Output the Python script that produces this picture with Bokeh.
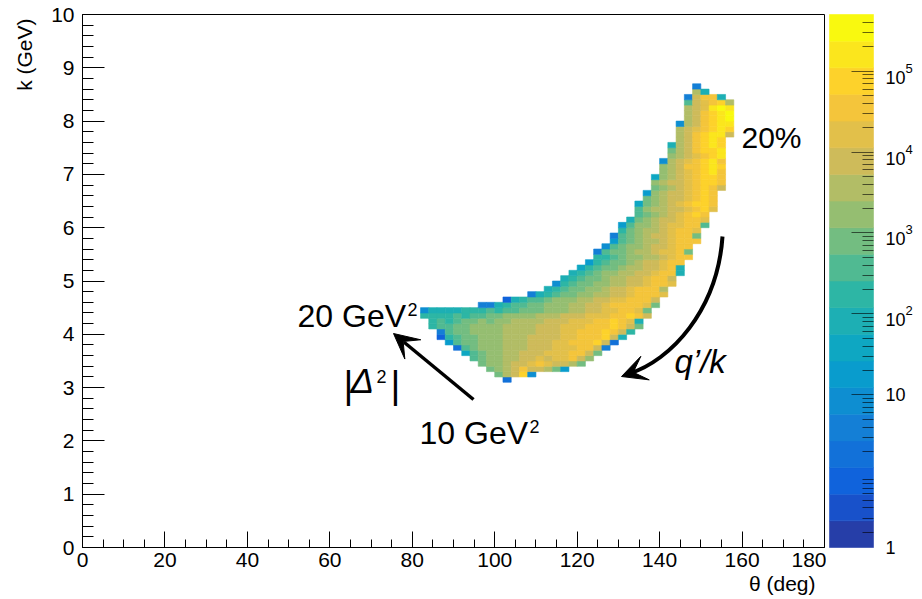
import math
from bokeh.plotting import figure
from bokeh.models import (ColumnDataSource, LogColorMapper, Label, Arrow, VeeHead,
                          SingleIntervalTicker, FixedTicker, Range1d, LinearAxis,
                          CustomJSTickFormatter)
from bokeh.layouts import row
from bokeh.embed import file_html
from bokeh.resources import INLINE
from bokeh.core.properties import value

# ------------------------------------------------------------------ data
theta_bin_deg = 2.0      # histogram bin width in theta
k_bin_gev = 0.1          # histogram bin width in k
theta_lim = (0, 180)
k_lim = (0, 10)
z_min = 0.13             # colour-axis range (log)
z_max = 5.0e5
n_contours = 20          # number of colour bands

# one entry per k bin (k = 0.1*index GeV): first theta bin (theta = 2*index deg)
# and the colour band of each filled cell, 'a' = band 0 ... 't' = band 19
row_k_bin = list(range(31, 87))
row_first_theta_bin = [51, 50, 49, 48, 47, 46, 45, 44, 43, 43, 42, 42, 41, 41,
                       48, 51, 54, 56, 57, 58, 59, 60, 61, 62, 62, 63, 64, 64,
                       65, 65, 66, 67, 67, 67, 68, 68, 69, 69, 69, 70, 70, 70,
                       71, 71, 71, 72, 72, 72, 72, 73, 73, 73, 73, 73, 74, 74]
row_levels = [
    "d", "lnorf", "lmnoqoonlg", "lmmnoopqpoonl", "klmmnnoopoppqom",
    "hklmmnnooopppqqol", "dklmmmnnnooopppqqoe", "gkllmmmnnnoooppqqqrod",
    "cjkllmmmnnnooooppqqqroi", "ekllmmmmnnnnoooppqqqrqoj",
    "jkkllmmmmnnnnooopppqqqrqol", "jkjkllmlmmnnnnooopppqqrqpi",
    "jjjjkjkkllmmmmnnnooopppqqrqo", "fiiiijjjkjkklllmmmnnooppqqpl",
    "eeijkkllmmmnnoopqqqqpl", "cijkklmmmnnooppqqqo", "eijkllmmnnoopqqqp",
    "ijkllmmnoopqqqn", "fjkllmmnnoopqqp", "ijkllmnnoopqqo", "ijklmmnnoopqqi",
    "hjkllmnnoopqi", "gjkllmnoopqq", "jjklmmnnopqq", "ekllmnnoppql",
    "fklmmnoopqq", "gklmnnopqqq", "eklmnoopqql", "jlmnnopqqp", "gkmmnoppqqk",
    "ilmnoopqqp", "klmnopqrq", "kmnnoopqrp", "hlmnopqrrq", "lmnoopqrq",
    "gmnoopqrq", "lmnopqrqo", "mnoopqrrq", "hmnopqrrq", "mnopqrsq",
    "mnoqqrsr", "fnopqrsq", "mnopqrs", "lnoqrrs", "inoqrsr", "noqrsr",
    "noqrsso", "nopqrsr", "fnoqrss", "noqrst", "noqrst", "nopsts", "kopqrn",
    "eoqqi", "ni", "e",
]

x_major_step = 20
y_major_step = 1
x_title = "θ (deg)"
y_title = "k (GeV)"
colorbar_tick_values = [z_min, 10, 100, 1000, 10000, 100000]
colorbar_bases = ["1", "10", "10", "10", "10", "10"]
colorbar_exponents = ["", "", "2", "3", "4", "5"]
colorbar_minor_mult = [2, 3, 4, 5, 6, 7, 8, 9]

# ------------------------------------------------------------------ palette (ROOT kBird)
stops = [0.0, 0.125, 0.25, 0.375, 0.5, 0.625, 0.75, 0.875, 1.0]
red = [0.2082, 0.0592, 0.0780, 0.0232, 0.1802, 0.5301, 0.8186, 0.9956, 0.9764]
green = [0.1664, 0.3599, 0.5041, 0.6419, 0.7178, 0.7492, 0.7328, 0.7862, 0.9832]
blue = [0.5293, 0.8684, 0.8385, 0.7914, 0.6425, 0.4662, 0.3499, 0.1968, 0.0539]
grad = []
for g in range(1, len(stops)):
    n = int((stops[g] - stops[g - 1]) * 255)
    for cc in range(n):
        f = cc / n
        r = red[g - 1] + (red[g] - red[g - 1]) * f
        gg = green[g - 1] + (green[g] - green[g - 1]) * f
        b = blue[g - 1] + (blue[g] - blue[g - 1]) * f
        grad.append("#%02x%02x%02x" % (round(r * 255), round(gg * 255), round(b * 255)))
band_colors = [grad[min(len(grad) - 1, int((k + 0.99) * len(grad) / n_contours))]
               for k in range(n_contours)]

lz0, lz1 = math.log10(z_min), math.log10(z_max)
dz = (lz1 - lz0) / n_contours
mapper = LogColorMapper(palette=band_colors, low=z_min, high=z_max)

# ------------------------------------------------------------------ cells
left, right, bottom, top, counts = [], [], [], [], []
for kb, t0, levels in zip(row_k_bin, row_first_theta_bin, row_levels):
    for n, ch in enumerate(levels):
        lev = ord(ch) - ord("a")
        left.append((t0 + n) * theta_bin_deg)
        right.append((t0 + n + 1) * theta_bin_deg)
        bottom.append(kb * k_bin_gev)
        top.append((kb + 1) * k_bin_gev)
        counts.append(10 ** (lz0 + (lev + 0.5) * dz))
src = ColumnDataSource(dict(left=left, right=right, bottom=bottom, top=top, count=counts))

FONT = "Liberation Sans"

# ------------------------------------------------------------------ main figure
# the frame fills the whole canvas; the axes are pinned inside it
W, H = 826, 599
FL, FR, FT, FB = 82, 824, 14, 547          # axis box in page pixels
sx = (theta_lim[1] - theta_lim[0]) / (FR - FL)
sy = (k_lim[1] - k_lim[0]) / (FB - FT)
p = figure(width=W, height=H, output_backend="svg", toolbar_location=None,
           x_range=Range1d(theta_lim[0] - FL * sx, theta_lim[0] + (W - FL) * sx),
           y_range=Range1d(k_lim[0] - (H - FB) * sy, k_lim[0] + (FB) * sy),
           min_border=0)
p.min_border_left = p.min_border_right = p.min_border_top = p.min_border_bottom = 0
p.title.visible = False
p.xgrid.visible = False
p.ygrid.visible = False
p.outline_line_color = None
p.background_fill_color = "white"
p.border_fill_color = "white"

p.quad(left="left", right="right", bottom="bottom", top="top", source=src,
       fill_color={"field": "count", "transform": mapper},
       line_color={"field": "count", "transform": mapper}, line_width=0.6)

xa, yaxis_main = p.xaxis[0], p.yaxis[0]
xa.fixed_location = k_lim[0]
xa.bounds = theta_lim
yaxis_main.fixed_location = theta_lim[0]
yaxis_main.bounds = k_lim
for ax, step, nminor, tin in ((xa, x_major_step, 4, 16), (yaxis_main, y_major_step, 5, 22)):
    ax.ticker = SingleIntervalTicker(interval=step, num_minor_ticks=nminor)
    ax.major_tick_in = tin
    ax.major_tick_out = 0
    ax.minor_tick_in = tin // 2
    ax.minor_tick_out = 0
    ax.major_tick_line_color = "black"
    ax.minor_tick_line_color = "black"
    ax.axis_line_color = "black"
    ax.major_label_text_font = FONT
    ax.major_label_text_font_size = "21px"
    ax.major_label_text_color = "black"
xa.major_label_standoff = 5
yaxis_main.major_label_standoff = 8

# top and right edges of the axis box
p.add_layout(LinearAxis(fixed_location=k_lim[1], bounds=theta_lim, ticker=FixedTicker(ticks=[]),
                        axis_line_color="black"), "above")
p.add_layout(LinearAxis(fixed_location=theta_lim[1], bounds=k_lim, ticker=FixedTicker(ticks=[]),
                        axis_line_color="black"), "right")


def dx(px):
    return theta_lim[0] + (px - FL) * sx


def dy(py):
    return k_lim[0] + (FB - py) * sy


def lab(fig, x, y, text, size, **kw):
    fig.add_layout(Label(x=x, y=y, text=text, text_font=FONT, text_baseline="middle",
                         text_font_size=size, text_color="black", **kw))


# axis titles
lab(p, dx(24), dy(18), y_title, "21px", angle=math.pi / 2, text_align="right")
lab(p, dx(815), dy(583), x_title, "21px", text_align="right")

# annotations (y given as the vertical middle of the capitals)
lab(p, dx(741), dy(137), "20%", "30px")
lab(p, dx(674), dy(361), "q\u2019/k", "33px", text_font_style="italic")
lab(p, dx(297), dy(315), "20 GeV", "32px")
lab(p, dx(407), dy(309), "2", "18px")
lab(p, dx(419), dy(432), "10 GeV", "32px")
lab(p, dx(529), dy(426), "2", "18px")
lab(p, dx(343), dy(384), "|", "38px")
lab(p, dx(350), dy(380), "Δ", "35px", text_font_style="italic")
lab(p, dx(376), dy(376), "2", "18px")
lab(p, dx(390), dy(384), "|", "38px")

# straight arrow |Delta^2|
p.add_layout(Arrow(x_start=dx(473), y_start=dy(399), x_end=dx(393), y_end=dy(333),
                   line_width=3.5, line_color="black",
                   end=VeeHead(size=25, fill_color="black", line_color="black")))
# curved arrow q'/k
P0, C0, C1, P3 = (722, 236), (717, 310), (670, 360), (621, 376)
p.bezier(x0=[dx(P0[0])], y0=[dy(P0[1])], x1=[dx(P3[0] + 8)], y1=[dy(P3[1] - 3)],
         cx0=[dx(C0[0])], cy0=[dy(C0[1])], cx1=[dx(C1[0])], cy1=[dy(C1[1])],
         line_width=4, line_color="black")
p.add_layout(Arrow(x_start=dx(P3[0] + 14), y_start=dy(P3[1] - 5), x_end=dx(P3[0]), y_end=dy(P3[1]),
                   line_width=4, line_color="black",
                   end=VeeHead(size=25, fill_color="black", line_color="black")))

# ------------------------------------------------------------------ colour bar
CW = 922 - W
CL, CR = 829, 873                       # colour bar edges in page pixels
per_px = (lz1 - lz0) / (FB - FT)       # decades per pixel
c = figure(width=CW, height=H, output_backend="svg", toolbar_location=None,
           x_range=Range1d((W - CL) / (CR - CL), (W + CW - CL) / (CR - CL)),
           y_range=Range1d(10 ** (lz0 - (H - FB) * per_px), 10 ** (lz1 + FT * per_px)),
           y_axis_type="log", y_axis_location="right", min_border=0)
c.min_border_left = c.min_border_right = c.min_border_top = c.min_border_bottom = 0
c.title.visible = False
c.xaxis.visible = False
c.xgrid.visible = False
c.ygrid.visible = False
c.outline_line_color = None
c.border_fill_color = "white"
c.background_fill_color = "white"

edges = [10 ** (lz0 + k * dz) for k in range(n_contours + 1)]
csrc = ColumnDataSource(dict(bottom=edges[:-1], top=edges[1:],
                             count=[10 ** (lz0 + (k + 0.5) * dz) for k in range(n_contours)]))
c.quad(left=0, right=1, bottom="bottom", top="top", source=csrc,
       fill_color={"field": "count", "transform": mapper},
       line_color={"field": "count", "transform": mapper}, line_width=0.6)

minor = [m * 10 ** e for e in range(-1, 6) for m in colorbar_minor_mult if z_min < m * 10 ** e < z_max]
ya = c.yaxis[0]
ya.fixed_location = 1
ya.bounds = (z_min, z_max)
ya.ticker = FixedTicker(ticks=colorbar_tick_values[1:], minor_ticks=minor)
ya.formatter = CustomJSTickFormatter(code='return "";')
ya.major_tick_in = 22
ya.major_tick_out = 0
ya.minor_tick_in = 11
ya.minor_tick_out = 0
ya.major_tick_line_color = "black"
ya.major_tick_line_alpha = 0.6
ya.minor_tick_line_color = "black"
ya.minor_tick_line_alpha = 0.6
ya.axis_line_color = None

# colour-bar labels: base number and raised exponent
xb = (885 - CL) / (CR - CL)
xe = (905 - CL) / (CR - CL)
base_y = [v * 10 ** (-(6 if e else 0) * per_px) for v, e in zip(colorbar_tick_values, colorbar_exponents)]
c.text(x=[xb] * len(base_y), y=base_y, text=colorbar_bases,
       text_font=value(FONT), text_font_size="18px", text_baseline="middle", text_color="black")
exp_y = [v * 10 ** (3 * per_px) for v, e in zip(colorbar_tick_values, colorbar_exponents) if e]
exp_t = [e for e in colorbar_exponents if e]
c.text(x=[xe] * len(exp_t), y=exp_y, text=exp_t,
       text_font=value(FONT), text_font_size="13px", text_baseline="middle", text_color="black")

layout = row(p, c)
open("out.html", "w").write(file_html(layout, INLINE))
